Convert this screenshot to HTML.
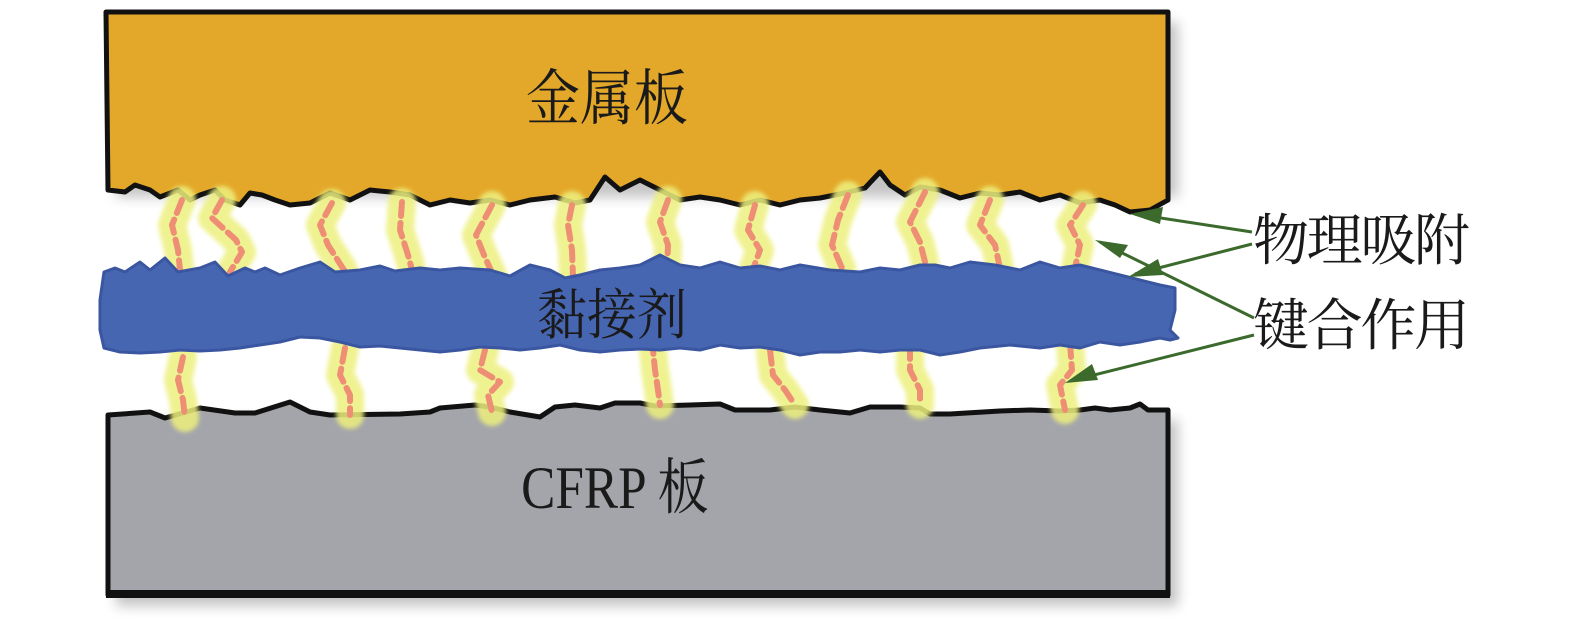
<!DOCTYPE html>
<html><head><meta charset="utf-8"><style>
html,body{margin:0;padding:0;background:#fff;}
svg{display:block;}
text{font-family:"Liberation Serif","Noto Serif CJK SC",serif;fill:#1a1a1a;}
</style></head><body>
<svg width="1575" height="625" viewBox="0 0 1575 625" xmlns="http://www.w3.org/2000/svg">
<defs>
<filter id="sh" x="-5%" y="-10%" width="115%" height="130%"><feGaussianBlur stdDeviation="6"/></filter>
<filter id="gl" x="-50%" y="-20%" width="200%" height="140%"><feGaussianBlur stdDeviation="2"/></filter>
</defs>
<rect x="116" y="22" width="1062" height="175" fill="#888" opacity="0.5" filter="url(#sh)"/>
<rect x="116" y="420" width="1062" height="186" fill="#888" opacity="0.5" filter="url(#sh)"/>
<path d="M106,12 L1168,12 L1168,200 L1150,210 L1130,212 L1115,205 L1100,200 L1080,203 L1060,195 L1040,200 L1020,192 L1000,195 L980,193 L960,198 L940,190 L920,187 L905,195 L890,185 L880,172 L865,188 L845,193 L820,198 L800,200 L780,205 L760,200 L740,205 L720,200 L700,197 L680,200 L660,190 L640,180 L620,190 L605,177 L590,200 L575,203 L555,197 L530,200 L510,205 L490,200 L470,203 L450,200 L430,205 L410,195 L390,192 L370,190 L350,200 L330,193 L310,203 L290,205 L275,200 L262,195 L250,193 L240,205 L225,200 L215,190 L200,195 L190,200 L178,190 L160,197 L150,190 L135,185 L125,192 L108,190 Z" fill="#e3a82a" stroke="#111" stroke-width="5" stroke-linejoin="round"/>
<path d="M108,415 L150,412 L165,418 L200,408 L235,413 L255,413 L290,402 L310,412 L330,415 L400,414 L430,412 L440,408 L475,405 L490,407 L510,412 L540,417 L555,407 L575,405 L600,408 L615,403 L640,403 L655,406 L690,405 L720,404 L735,410 L770,410 L795,407 L820,410 L850,413 L870,407 L900,407 L920,408 L930,414 L950,414 L1000,411 L1030,410 L1060,411 L1080,410 L1095,408 L1110,410 L1130,408 L1140,404 L1148,410 L1168,410 L1168,595 L108,595 Z" fill="#a4a5aa" stroke="#111" stroke-width="5" stroke-linejoin="round"/>
<line x1="106" y1="594" x2="1170" y2="594" stroke="#111" stroke-width="8"/>
<g fill="none" stroke-linecap="round" stroke-linejoin="round">
<g stroke="#edf07e" stroke-width="28" opacity="0.85" filter="url(#gl)">
<path d="M182,200 L172,225 L178,250 L180,270"/>
<path d="M222,200 L212,218 L236,240 L242,252 L230,272"/>
<path d="M332,203 L320,225 L328,245 L344,270"/>
<path d="M402,202 L400,230 L408,255 L412,270"/>
<path d="M492,205 L476,235 L484,255 L493,275"/>
<path d="M572,205 L568,225 L572,250 L573,277"/>
<path d="M668,200 L660,222 L668,245 L667,270"/>
<path d="M755,205 L748,230 L760,250 L752,272"/>
<path d="M848,195 L838,220 L832,245 L842,268"/>
<path d="M925,192 L910,222 L920,242 L925,262"/>
<path d="M990,200 L980,225 L995,245 L1000,268"/>
<path d="M1083,205 L1070,225 L1080,245 L1075,268"/>
<path d="M183,357 L178,380 L183,400 L185,418"/>
<path d="M345,348 L340,375 L350,395 L350,415"/>
<path d="M485,350 L480,370 L500,382 L488,395 L492,412"/>
<path d="M652,340 L655,370 L658,390 L660,405"/>
<path d="M770,350 L773,375 L785,390 L795,405"/>
<path d="M910,345 L910,370 L920,390 L920,405"/>
<path d="M1070,343 L1072,370 L1060,385 L1065,410"/>
</g>
<g stroke="#ee8f75" stroke-width="6" stroke-dasharray="14,7">
<path d="M182,200 L172,225 L178,250 L180,270"/>
<path d="M222,200 L212,218 L236,240 L242,252 L230,272"/>
<path d="M332,203 L320,225 L328,245 L344,270"/>
<path d="M402,202 L400,230 L408,255 L412,270"/>
<path d="M492,205 L476,235 L484,255 L493,275"/>
<path d="M572,205 L568,225 L572,250 L573,277"/>
<path d="M668,200 L660,222 L668,245 L667,270"/>
<path d="M755,205 L748,230 L760,250 L752,272"/>
<path d="M848,195 L838,220 L832,245 L842,268"/>
<path d="M925,192 L910,222 L920,242 L925,262"/>
<path d="M990,200 L980,225 L995,245 L1000,268"/>
<path d="M1083,205 L1070,225 L1080,245 L1075,268"/>
<path d="M183,357 L178,380 L183,400 L185,418"/>
<path d="M345,348 L340,375 L350,395 L350,415"/>
<path d="M485,350 L480,370 L500,382 L488,395 L492,412"/>
<path d="M652,340 L655,370 L658,390 L660,405"/>
<path d="M770,350 L773,375 L785,390 L795,405"/>
<path d="M910,345 L910,370 L920,390 L920,405"/>
<path d="M1070,343 L1072,370 L1060,385 L1065,410"/>
</g>
</g>
<path d="M104,272 L115,268 L125,272 L140,262 L150,270 L165,258 L178,272 L200,268 L215,262 L228,276 L245,268 L255,272 L265,268 L280,275 L300,268 L320,262 L335,272 L360,270 L380,266 L395,271 L420,268 L440,270 L460,268 L490,270 L510,276 L530,265 L550,270 L565,278 L580,275 L600,270 L620,268 L640,265 L660,255 L680,265 L700,268 L720,262 L740,268 L760,266 L780,270 L800,265 L830,270 L860,272 L880,268 L900,270 L920,265 L935,265 L950,268 L970,262 L995,265 L1020,270 L1040,262 L1060,268 L1080,265 L1100,270 L1120,275 L1140,280 L1160,285 L1175,288 L1175,310 L1170,330 L1178,338 L1170,340 L1160,338 L1140,342 L1120,345 L1100,342 L1080,348 L1060,345 L1040,348 L1010,345 L980,348 L960,352 L940,355 L920,350 L900,350 L880,352 L860,350 L840,352 L820,352 L800,355 L780,350 L760,347 L740,348 L720,345 L700,350 L680,348 L660,350 L640,349 L620,350 L600,352 L580,350 L560,345 L540,348 L520,350 L500,348 L480,347 L460,350 L440,352 L420,350 L400,348 L380,346 L360,347 L340,342 L320,338 L300,337 L280,342 L260,345 L240,348 L220,350 L200,351 L180,350 L160,352 L140,353 L120,352 L104,348 L100,330 L100,300 Z" fill="#4766b2" stroke="#3a56a0" stroke-width="3" stroke-linejoin="round"/>
<text transform="translate(607,119) scale(1,1.12)" font-size="54" text-anchor="middle">金属板</text>
<text transform="translate(612,334) scale(1,1.1)" font-size="50" text-anchor="middle">黏接剂</text>
<text transform="translate(615,508) scale(0.95,1.12)" font-size="54" text-anchor="middle">CFRP 板</text>
<text x="1253" y="260" font-size="56" textLength="217">物理吸附</text>
<text x="1253" y="345" font-size="56" textLength="217">键合作用</text>
<g stroke="#3b6a2c" stroke-width="3" fill="none">
<line x1="1252" y1="232" x2="1135" y2="214"/>
<line x1="1252" y1="244" x2="1135" y2="274"/>
<line x1="1254" y1="318" x2="1100" y2="242"/>
<line x1="1254" y1="335" x2="1070" y2="381"/>
</g>
<g fill="#3b6a2c">
<path d="M1130,214 L1163,207 L1160,224 Z"/>
<path d="M1128,277 L1158,259 L1163,275 Z"/>
<path d="M1095,240 L1128,245 L1120,258 Z"/>
<path d="M1065,383 L1092,364 L1098,380 Z"/>
</g>
</svg>
</body></html>
